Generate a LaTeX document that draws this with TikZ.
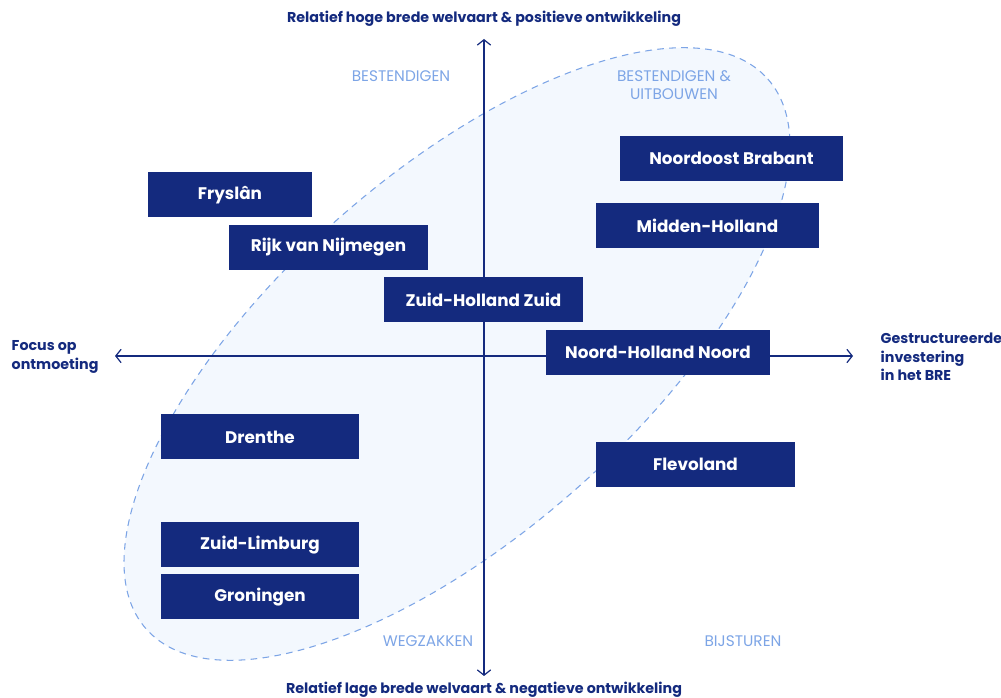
\documentclass[tikz,border=0pt]{standalone}
\usepackage{fontspec}
\setmainfont{Poppins}
\usetikzlibrary{arrows.meta}
\definecolor{navy}{RGB}{20,42,126}
\definecolor{skyline}{RGB}{125,165,230}
\definecolor{skyfill}{RGB}{243,248,254}
\tikzset{
	region/.style={fill=navy,text=white,minimum height=33.75pt,inner sep=0pt,font=\fontsize{12.6}{14}\selectfont\bfseries},
	axis/.style={draw=navy,line width=0.9pt,{Straight Barb[length=4pt,width=10pt]}-{Straight Barb[length=4pt,width=10pt]}},
	axislabel/.style={text=navy,align=left,font=\fontsize{10.7}{13.8}\selectfont\bfseries},
	quadrant/.style={text=skyline,align=center,font=\fontsize{11.5}{13.5}\selectfont},
	zone/.style={draw=skyline,fill=skyfill,dashed,dash pattern=on 5pt off 4pt,line width=0.8pt}
}
\begin{document}
\begin{tikzpicture}[x=0.75pt,y=-0.75pt]
			\useasboundingbox (0,0) rectangle (1001,698);
			\begin{scope}[shift={(457,354)},rotate=41.5]
				\draw[zone] (0,0) ellipse (415 and 180);
			\end{scope}
			\coordinate (north) at (484,39);
			\coordinate (south) at (484,676);
			\coordinate (west) at (115,356);
			\coordinate (east) at (853,356);
			\draw[axis] (south) -- (north);
			\draw[axis] (west) -- (east);
			\node[axislabel] (top) at (484,19) {Relatief hoge brede welvaart \& positieve ontwikkeling};
			\node[axislabel] (bottom) at (484,690) {Relatief lage brede welvaart \& negatieve ontwikkeling};
			\node[axislabel,anchor=west] (left) at (7,357) {Focus op\\ontmoeting};
			\node[axislabel,anchor=west] (right) at (876,357) {Gestructureerde\\investering\\in het BRE};
			\node[quadrant] (q1) at (401,76) {BESTENDIGEN};
			\node[quadrant] (q2) at (674,85) {BESTENDIGEN \&\\UITBOUWEN};
			\node[quadrant] (q3) at (428,641) {WEGZAKKEN};
			\node[quadrant] (q4) at (743,641) {BIJSTUREN};
			\node[region,minimum width=123pt] (fryslan) at (230,195) {Fryslân};
			\node[region,minimum width=149pt] (nijmegen) at (328.5,247.5) {Rijk van Nijmegen};
			\node[region,minimum width=149pt] (zhz) at (483.5,299.5) {Zuid-Holland Zuid};
			\node[region,minimum width=167pt] (brabant) at (731.5,158.5) {Noordoost Brabant};
			\node[region,minimum width=167pt] (midden) at (707.5,225.5) {Midden-Holland};
			\node[region,minimum width=168pt] (nhn) at (658,352.5) {Noord-Holland Noord};
			\node[region,minimum width=149pt] (flevoland) at (695.5,464.5) {Flevoland};
			\node[region,minimum width=148.5pt] (drenthe) at (260,437) {Drenthe};
			\node[region,minimum width=148.5pt] (limburg) at (260,545) {Zuid-Limburg};
			\node[region,minimum width=148.5pt] (groningen) at (260,597) {Groningen};
\end{tikzpicture}
\end{document}
